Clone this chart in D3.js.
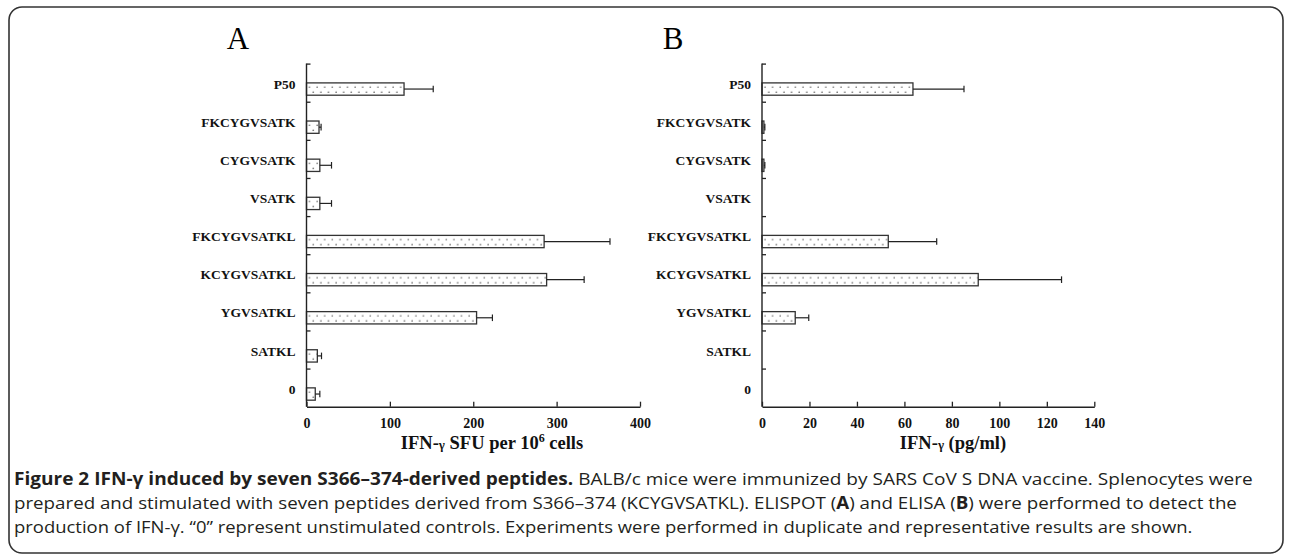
<!DOCTYPE html>
<html>
<head>
<meta charset="utf-8">
<script src="https://cdn.jsdelivr.net/npm/d3@7"></script>
<style>
  body { margin: 0; background: #fff; }
  svg { display: block; }
</style>
</head>
<body>
<script>
// ---- data ----
const categories = ["P50", "FKCYGVSATK", "CYGVSATK", "VSATK", "FKCYGVSATKL",
                    "KCYGVSATKL", "YGVSATKL", "SATKL", "0"];

// A: ELISPOT, SFU per 10^6 cells
const elispotMean = [117, 15, 16, 16, 285, 288, 204, 13, 10.5];
const elispotErr  = [35, 2.5, 14, 14, 79, 45, 19, 5, 5.5];
const elispotTicks = [0, 100, 200, 300, 400];

// B: ELISA, pg/ml
const elisaMean = [63.6, 0.8, 0.8, 0, 53.2, 91.1, 14.0, 0, 0];
const elisaErr  = [21.5, 0.4, 0.4, 0, 20.4, 35.1, 5.7, 0, 0];
const elisaTicks = [0, 20, 40, 60, 80, 100, 120, 140];

const W = 1290, H = 555;
const SERIF = "'Liberation Serif', 'Times New Roman', serif";
const SANS = "'Open Sans', 'Noto Sans', sans-serif";

const svg = d3.select("body").append("svg")
    .attr("width", W)
    .attr("height", H);

// frame round the whole figure
svg.append("rect")
    .attr("x", 9).attr("y", 7)
    .attr("width", 1274).attr("height", 546)
    .attr("rx", 13)
    .attr("fill", "none")
    .attr("stroke", "#333")
    .attr("stroke-width", 1.6);

// dotted fill of the bars
svg.append("defs").append("pattern")
    .attr("id", "dots")
    .attr("patternUnits", "userSpaceOnUse")
    .attr("width", 7.6).attr("height", 10)
    .call(p =>
    {
      p.append("circle").attr("cx", 3).attr("cy", 4.3).attr("r", 0.75).attr("fill", "#555");
      p.append("circle").attr("cx", 6.8).attr("cy", 9.3).attr("r", 0.75).attr("fill", "#555");
    });

// plot area shared by both panels
const TOP = 63.6, BOTTOM = 406.7;
const BAR_OFFSET = 19.3, BAR_H = 12.3;

function drawPanel(o)
{
  let g = svg.append("g");

  let x = d3.scaleLinear()
      .domain([0, o.ticks[o.ticks.length - 1]])
      .range([o.x0, o.x1]);

  let y = d3.scaleBand()
      .domain(categories)
      .range([TOP, BOTTOM]);

  // panel letter
  g.append("text")
      .attr("x", o.letterX).attr("y", 49)
      .attr("text-anchor", "middle")
      .attr("font-family", SERIF)
      .attr("font-size", 31)
      .text(o.letter);

  // bars
  let data = categories.map((c, i) => ({ cat: c, v: o.means[i], e: o.errs[i] }));

  let bars = g.append("g").selectAll("g")
      .data(data.filter(d => d.v > 0))
      .enter()
      .append("g")
          .attr("transform", d => "translate(" + x(0) + "," + (y(d.cat) + BAR_OFFSET) + ")");

  bars.append("rect")
      .attr("x", 0).attr("y", 0)
      .attr("width", d => x(d.v) - x(0))
      .attr("height", BAR_H)
      .attr("fill", "url(#dots)")
      .attr("stroke", "#333")
      .attr("stroke-width", 1.3);

  // error bars (upper side only)
  let err = g.append("g")
      .attr("stroke", "#222")
      .attr("stroke-width", 1.2)
      .selectAll("g")
      .data(data.filter(d => d.e > 0))
      .enter()
      .append("g");

  err.append("line")
      .attr("x1", d => x(d.v)).attr("x2", d => x(d.v + d.e))
      .attr("y1", d => y(d.cat) + BAR_OFFSET + BAR_H / 2)
      .attr("y2", d => y(d.cat) + BAR_OFFSET + BAR_H / 2);
  err.append("line")
      .attr("x1", d => x(d.v + d.e)).attr("x2", d => x(d.v + d.e))
      .attr("y1", d => y(d.cat) + BAR_OFFSET + BAR_H / 2 - 3.3)
      .attr("y2", d => y(d.cat) + BAR_OFFSET + BAR_H / 2 + 3.3);

  // category ticks on the inner side of the y axis
  let idx = d3.scaleLinear().domain([0, categories.length]).range([TOP, BOTTOM]);
  g.append("g")
      .attr("transform", "translate(" + o.x0 + ",0)")
      .call(d3.axisRight(idx).tickValues(d3.range(0, categories.length)).tickSize(4).tickFormat(""))
      .call(a => a.select(".domain").remove())
      .call(a => a.selectAll("line").attr("stroke", "#222").attr("stroke-width", 1.3));

  g.append("line")
      .attr("x1", o.x0).attr("x2", o.x0)
      .attr("y1", TOP).attr("y2", BOTTOM)
      .attr("stroke", "#222").attr("stroke-width", 1.4);

  // category labels
  g.append("g").selectAll("text")
      .data(categories)
      .enter()
      .append("text")
          .attr("x", o.x0 - 11)
          .attr("y", d => y(d) + y.bandwidth() / 2 + 6)
          .attr("text-anchor", "end")
          .attr("font-family", SERIF)
          .attr("font-weight", "bold")
          .attr("font-size", 13.5)
          .attr("fill", "#111")
          .text(d => d);

  // x axis
  g.append("g")
      .attr("transform", "translate(0," + BOTTOM + ")")
      .call(d3.axisBottom(x).tickValues(o.ticks).tickSizeInner(-5).tickSizeOuter(0).tickPadding(11))
      .call(a => a.select(".domain").attr("stroke", "#222").attr("stroke-width", 1.4))
      .call(a => a.selectAll("line").attr("stroke", "#222").attr("stroke-width", 1.3))
      .call(a => a.selectAll("text")
          .attr("font-family", SERIF)
          .attr("font-weight", "bold")
          .attr("font-size", 14)
          .attr("fill", "#111"));

  // axis title
  let t = g.append("text")
      .attr("x", o.titleX).attr("y", 449)
      .attr("text-anchor", "middle")
      .attr("font-family", SERIF)
      .attr("font-weight", "bold")
      .attr("font-size", 18.5)
      .attr("fill", "#111");
  o.title.forEach(p =>
  {
    let s = t.append("tspan").text(p.t);
    if (p.size) s.attr("font-size", p.size);
    if (p.dy) s.attr("dy", p.dy);
  });
}

drawPanel({
  letter: "A", letterX: 238,
  x0: 306.5, x1: 640,
  means: elispotMean, errs: elispotErr, ticks: elispotTicks,
  titleX: 492,
  title: [{ t: "IFN-" }, { t: "γ", size: 13 }, { t: " SFU per 10" },
          { t: "6", size: 12, dy: -7 }, { t: " cells", dy: 7 }]
});

drawPanel({
  letter: "B", letterX: 673,
  x0: 762, x1: 1094.3,
  means: elisaMean, errs: elisaErr, ticks: elisaTicks,
  titleX: 953,
  title: [{ t: "IFN-" }, { t: "γ", size: 13 }, { t: " (pg/ml)" }]
});

// ---- caption ----
const captionLines = [
  { y: 485, end: 1253, parts: [
      { t: "Figure 2 IFN-γ induced by seven S366–374-derived peptides.", b: true },
      { t: " BALB/c mice were immunized by SARS CoV S DNA vaccine. Splenocytes were" }] },
  { y: 509, end: 1238, parts: [
      { t: "prepared and stimulated with seven peptides derived from S366–374 (KCYGVSATKL). ELISPOT (" },
      { t: "A", b: true }, { t: ") and ELISA (" }, { t: "B", b: true },
      { t: ") were performed to detect the" }] },
  { y: 533, end: 1193, parts: [
      { t: "production of IFN-γ. “0” represent unstimulated controls. Experiments were performed in duplicate and representative results are shown." }] }
];

const CAP_X = 14;
captionLines.forEach(line =>
{
  let txt = svg.append("text")
      .attr("font-family", SANS)
      .attr("font-size", 17)
      .attr("fill", "#231f20")
      .attr("x", 0).attr("y", 0);
  line.parts.forEach(p =>
  {
    txt.append("tspan")
        .attr("font-weight", p.b ? "bold" : "normal")
        .text(p.t);
  });
  let len = txt.node().getComputedTextLength();
  let k = (line.end - CAP_X) / len;
  txt.attr("transform", "translate(" + CAP_X + "," + line.y + ") scale(" + k + ",1)");
});
</script>
</body>
</html>
